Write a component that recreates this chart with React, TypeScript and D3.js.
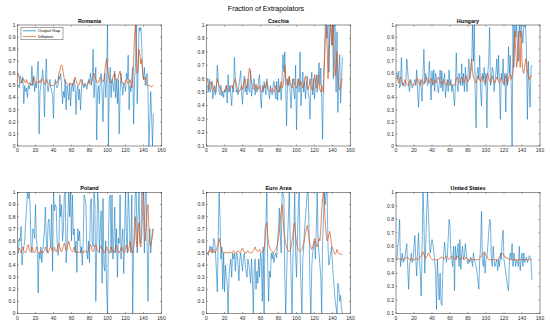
import React from "react";
import * as d3 from "d3";

// fraction of extrapolators, one pair of series per country (t = 1..151)
const countries = ["Romania", "Czechia", "Hungary", "Poland", "Euro Area", "United States"];
const seriesNames = ["Output Gap", "Inflation"];
const xTicks = [0, 20, 40, 60, 80, 100, 120, 140, 160];

const romaniaGap = [
  0.50,0.48,0.58,0.55,0.52,0.57,0.35,0.50,0.45,0.48, 0.40,0.50,0.47,0.52,0.50,0.66,0.50,0.58,0.45,0.52,
  0.48,0.62,0.70,0.10,0.45,0.50,0.55,0.63,0.50,0.24, 0.55,0.72,0.50,0.45,0.50,0.55,0.48,0.45,0.42,0.23,
  0.50,0.55,0.50,0.48,0.50,0.58,0.55,0.60,0.50,0.35, 0.45,0.40,0.55,0.30,0.50,0.45,0.38,0.52,0.33,0.48,
  0.52,0.45,0.55,0.50,0.26,0.45,0.50,0.38,0.47,0.30, 0.45,0.55,0.50,0.48,0.52,0.50,0.47,0.50,0.55,0.52,
  0.60,0.50,0.55,0.80,0.40,0.55,0.65,0.05,0.45,0.50, 0.35,0.55,0.60,0.45,0.20,0.50,0.60,0.40,0.55,1.00,
  0.00,0.50,0.65,0.40,0.55,0.50,0.45,0.62,0.40,0.55, 0.35,0.55,0.10,0.45,0.60,0.50,0.42,0.52,0.50,0.45,
  0.60,0.55,0.75,0.30,0.50,0.45,0.55,0.65,0.18,0.55, 0.65,1.00,0.35,0.60,0.98,0.95,0.98,0.85,0.60,0.55,
  0.65,0.50,0.55,0.60,0.45,0.00,0.20,0.45,0.25,0.00,0.27,
];
const romaniaInf = [
  0.60,0.55,0.52,0.52,0.55,0.55,0.55,0.53,0.52,0.55, 0.53,0.51,0.52,0.52,0.51,0.50,0.52,0.57,0.55,0.53,
  0.52,0.52,0.53,0.54,0.52,0.55,0.56,0.55,0.53,0.51, 0.52,0.55,0.53,0.52,0.51,0.50,0.50,0.50,0.50,0.50,
  0.51,0.52,0.53,0.52,0.55,0.60,0.62,0.66,0.67,0.65, 0.60,0.55,0.53,0.52,0.52,0.51,0.50,0.51,0.52,0.51,
  0.50,0.52,0.55,0.57,0.54,0.52,0.51,0.50,0.52,0.55, 0.53,0.51,0.50,0.50,0.51,0.50,0.50,0.52,0.54,0.52,
  0.51,0.52,0.55,0.58,0.60,0.58,0.55,0.53,0.52,0.53, 0.55,0.57,0.56,0.54,0.53,0.55,0.62,0.68,0.72,0.65,
  0.58,0.55,0.53,0.52,0.54,0.57,0.59,0.60,0.56,0.54, 0.55,0.57,0.60,0.62,0.57,0.53,0.52,0.51,0.52,0.54,
  0.55,0.53,0.51,0.52,0.55,0.52,0.48,0.55,0.70,0.90, 1.00,0.80,0.60,0.65,0.80,0.75,0.68,0.72,0.62,0.55,
  0.55,0.57,0.52,0.50,0.50,0.50,0.50,0.49,0.49,0.50,0.50,
];

const czechiaGap = [
  0.55,0.50,0.60,0.50,0.52,0.58,0.45,0.50,0.55,0.48, 0.52,0.70,0.60,0.50,0.48,0.55,0.47,0.50,0.46,0.52,
  0.50,0.55,0.42,0.63,0.50,0.55,0.47,0.40,0.55,0.50, 0.76,0.60,0.50,0.52,0.48,0.55,0.60,0.66,0.50,0.41,
  0.55,0.62,0.50,0.55,0.48,0.60,0.52,0.50,0.66,0.47, 0.52,0.55,0.60,0.48,0.55,0.50,0.52,0.60,0.63,0.45,
  0.38,0.55,0.50,0.58,0.53,0.48,0.60,0.52,0.50,0.45, 0.55,0.50,0.48,0.55,0.58,0.52,0.45,0.58,0.44,0.60,
  0.50,0.55,0.44,0.62,0.78,0.65,0.80,0.55,0.25,0.60, 0.55,0.62,0.50,0.38,0.55,0.60,0.50,0.45,0.70,0.22,
  0.55,0.60,0.50,0.80,0.40,0.55,0.65,0.50,0.58,0.45, 0.55,0.62,0.50,0.45,0.30,0.55,0.65,0.48,0.60,0.45,
  0.55,0.63,0.50,0.58,0.72,0.55,0.68,0.45,0.15,0.60, 0.75,1.00,1.00,0.90,1.00,0.65,1.00,1.00,0.85,1.00,
  0.60,1.00,1.00,0.50,0.95,0.35,0.65,0.78,0.42,0.60,0.76,
];
const czechiaInf = [
  0.60,0.55,0.52,0.55,0.58,0.57,0.55,0.52,0.50,0.52, 0.55,0.60,0.57,0.55,0.53,0.52,0.51,0.50,0.50,0.51,
  0.52,0.55,0.53,0.52,0.51,0.52,0.54,0.55,0.53,0.55, 0.58,0.60,0.57,0.53,0.52,0.50,0.51,0.53,0.55,0.52,
  0.55,0.58,0.60,0.55,0.53,0.58,0.65,0.68,0.62,0.58, 0.55,0.53,0.52,0.55,0.56,0.54,0.52,0.53,0.55,0.52,
  0.50,0.51,0.52,0.55,0.53,0.56,0.58,0.55,0.52,0.51, 0.50,0.52,0.53,0.51,0.50,0.52,0.55,0.53,0.51,0.50,
  0.52,0.55,0.58,0.53,0.55,0.60,0.70,0.62,0.57,0.55, 0.58,0.62,0.57,0.55,0.53,0.58,0.60,0.56,0.55,0.53,
  0.55,0.60,0.57,0.55,0.58,0.56,0.53,0.55,0.60,0.62, 0.57,0.53,0.52,0.55,0.60,0.55,0.52,0.51,0.55,0.63,
  0.58,0.53,0.55,0.63,0.55,0.52,0.50,0.55,0.52,0.50, 0.70,0.90,1.00,0.85,0.60,0.75,0.90,1.00,0.95,0.85,
  1.00,0.75,0.62,0.70,0.80,0.65,0.55,0.52,0.53,0.58,0.60,
];

const hungaryGap = [
  0.60,0.55,0.62,0.48,0.50,0.73,0.50,0.52,0.50,0.49, 0.55,0.72,0.62,0.50,0.45,0.55,0.50,0.48,0.50,0.52,
  0.55,0.50,0.63,0.45,0.32,0.50,0.55,0.48,0.37,0.60, 0.80,0.52,0.60,0.55,0.50,0.52,0.70,0.55,0.38,0.62,
  0.50,0.63,0.45,0.60,0.55,0.50,0.44,0.50,0.63,0.48, 0.62,0.45,0.55,0.60,0.40,0.50,0.55,0.45,0.63,0.50,
  0.55,0.45,0.50,0.42,0.33,0.50,0.77,0.50,0.45,0.60, 0.55,0.50,0.68,0.50,0.60,0.45,0.65,0.55,0.45,0.60,
  0.72,0.55,0.60,0.65,1.00,0.70,1.00,0.45,0.15,0.60, 0.65,0.55,0.75,0.45,0.33,0.60,0.55,0.65,0.50,0.60,
  0.15,0.60,0.70,0.98,0.50,0.55,0.65,0.62,0.45,0.55, 0.60,0.72,0.55,0.75,0.50,0.22,0.60,0.55,0.72,0.50,
  0.60,0.28,0.60,0.50,0.82,0.60,0.75,0.50,0.00,1.00, 0.65,1.00,0.90,1.00,0.80,0.70,1.00,0.90,1.00,0.95,
  0.85,1.00,0.98,1.00,0.75,0.22,0.70,0.50,0.32,0.65,0.67,
];
const hungaryInf = [
  0.58,0.55,0.52,0.55,0.57,0.55,0.52,0.50,0.52,0.55, 0.53,0.51,0.50,0.50,0.52,0.55,0.53,0.51,0.50,0.50,
  0.51,0.52,0.55,0.56,0.53,0.51,0.50,0.52,0.55,0.53, 0.51,0.52,0.55,0.57,0.55,0.53,0.52,0.55,0.56,0.53,
  0.51,0.52,0.55,0.53,0.52,0.55,0.57,0.55,0.53,0.52, 0.51,0.53,0.55,0.52,0.51,0.50,0.52,0.54,0.52,0.51,
  0.50,0.50,0.51,0.50,0.50,0.52,0.55,0.57,0.55,0.53, 0.52,0.55,0.57,0.55,0.53,0.52,0.55,0.58,0.55,0.53,
  0.55,0.58,0.65,0.72,0.62,0.57,0.55,0.53,0.52,0.55, 0.58,0.56,0.55,0.53,0.56,0.58,0.55,0.53,0.52,0.55,
  0.58,0.60,0.56,0.54,0.52,0.55,0.58,0.55,0.53,0.52, 0.55,0.57,0.55,0.53,0.52,0.55,0.57,0.55,0.52,0.51,
  0.55,0.58,0.55,0.52,0.55,0.58,0.60,0.55,0.58,0.60, 0.75,0.95,0.80,0.65,0.70,0.95,0.80,0.65,0.95,0.70,
  0.62,0.60,0.65,0.72,0.70,0.62,0.58,0.55,0.57,0.58,0.58,
];

const polandGap = [
  0.50,0.62,0.60,0.72,0.40,0.50,0.55,0.60,0.75,0.85, 1.00,0.95,1.00,0.90,0.55,0.50,0.70,0.68,0.62,0.90,
  0.62,0.55,0.17,0.50,0.45,0.55,0.42,0.52,0.60,0.70, 0.88,0.60,0.50,0.75,0.78,0.65,0.55,0.90,0.35,1.00,
  0.85,0.90,0.88,0.60,0.48,0.55,0.98,0.80,0.90,0.60, 0.70,0.98,1.00,0.42,0.55,0.80,1.00,0.80,1.00,0.60,
  0.98,0.65,0.70,0.50,0.60,0.34,0.70,0.60,0.68,0.50, 0.55,0.40,0.60,0.98,0.95,0.90,0.50,0.45,0.60,0.42,
  0.90,0.95,0.60,0.55,1.00,0.90,0.10,0.55,1.00,0.90, 0.50,0.70,0.85,0.25,0.95,0.40,0.35,0.60,0.20,0.00,
  0.60,0.95,0.98,0.50,0.98,0.45,0.60,0.88,0.50,0.70, 0.30,0.62,0.58,0.98,0.45,0.60,0.70,0.33,0.65,1.00,
  0.65,0.50,1.00,0.85,0.60,0.50,0.98,0.00,0.55,0.75, 1.00,1.00,0.50,0.80,1.00,0.60,0.58,1.00,1.00,0.80,
  0.50,1.00,1.00,0.60,0.10,0.60,0.70,0.50,0.60,0.70,
];
const polandInf = [
  0.52,0.54,0.52,0.50,0.53,0.55,0.52,0.51,0.50,0.52, 0.56,0.57,0.53,0.51,0.52,0.55,0.53,0.51,0.50,0.52,
  0.55,0.53,0.51,0.50,0.51,0.52,0.50,0.50,0.51,0.52, 0.55,0.53,0.51,0.50,0.52,0.54,0.55,0.53,0.51,0.52,
  0.55,0.52,0.51,0.53,0.56,0.58,0.55,0.52,0.51,0.53, 0.56,0.58,0.55,0.52,0.53,0.57,0.60,0.56,0.53,0.52,
  0.51,0.52,0.55,0.53,0.51,0.50,0.51,0.51,0.50,0.51, 0.52,0.51,0.50,0.51,0.52,0.51,0.50,0.51,0.52,0.55,
  0.57,0.55,0.52,0.51,0.53,0.56,0.57,0.54,0.52,0.51, 0.52,0.55,0.56,0.53,0.51,0.50,0.51,0.53,0.55,0.52,
  0.51,0.50,0.52,0.55,0.53,0.51,0.50,0.52,0.55,0.56, 0.53,0.51,0.50,0.52,0.54,0.55,0.52,0.51,0.50,0.55,
  0.57,0.53,0.51,0.55,0.60,0.55,0.52,0.50,0.55,0.60, 0.80,0.60,0.55,0.70,0.75,0.58,0.55,0.65,0.85,1.00,
  0.80,0.60,0.70,0.85,0.90,0.70,0.58,0.56,0.60,0.65,0.70,
];

const euroGap = [
  0.50,0.48,0.52,0.56,0.53,0.55,0.50,0.62,0.60,0.50, 0.35,0.18,0.60,1.00,0.80,0.45,0.55,0.20,0.50,0.18,
  0.40,0.30,0.25,0.00,0.30,0.40,0.45,0.30,0.50,0.45, 0.50,0.35,0.48,0.50,0.40,0.27,0.45,0.50,0.42,0.35,
  0.45,0.50,0.42,0.35,0.30,0.45,0.40,0.35,0.25,0.45, 0.30,0.00,0.35,0.45,0.20,0.35,0.25,0.45,0.30,0.50,
  0.45,0.10,0.55,0.00,0.70,0.75,1.00,0.40,0.10,0.35, 0.30,0.50,0.45,0.50,0.42,0.48,0.50,0.46,0.60,0.70,
  0.87,0.65,0.50,1.00,1.00,0.95,0.30,0.00,0.30,0.60, 0.80,1.00,0.60,0.30,0.00,0.45,0.70,1.00,0.50,0.30,
  0.60,0.90,1.00,0.50,0.20,0.00,0.45,0.55,0.70,0.80, 0.90,1.00,1.00,0.65,0.20,0.00,0.40,0.50,0.55,0.60,
  0.45,0.70,1.00,0.60,0.50,0.40,0.30,0.00,0.60,0.80, 1.00,0.90,1.00,1.00,0.55,0.40,0.45,0.50,0.55,0.40,
  0.30,0.20,0.10,0.05,0.00,0.25,0.20,0.10,0.15,0.05,0.00,
];
const euroInf = [
  0.50,0.50,0.52,0.51,0.53,0.50,0.52,0.53,0.50,0.51, 0.52,0.55,0.58,0.62,0.58,0.55,0.53,0.51,0.50,0.50,
  0.51,0.50,0.50,0.50,0.50,0.51,0.50,0.50,0.51,0.52, 0.51,0.50,0.50,0.51,0.52,0.51,0.50,0.51,0.53,0.54,
  0.52,0.51,0.50,0.50,0.51,0.52,0.51,0.50,0.50,0.50, 0.51,0.52,0.53,0.55,0.53,0.52,0.51,0.52,0.53,0.51,
  0.50,0.51,0.52,0.53,0.60,0.70,0.75,0.65,0.58,0.55, 0.53,0.52,0.51,0.50,0.51,0.52,0.53,0.55,0.58,0.62,
  0.68,0.78,0.85,0.90,0.80,0.68,0.62,0.58,0.55,0.53, 0.52,0.51,0.52,0.55,0.60,0.65,0.72,0.75,0.65,0.58,
  0.55,0.53,0.52,0.51,0.52,0.53,0.55,0.58,0.62,0.66, 0.70,0.73,0.68,0.62,0.57,0.55,0.53,0.55,0.58,0.62,
  0.60,0.57,0.55,0.58,0.62,0.60,0.70,0.85,0.95,1.00, 0.90,0.75,0.65,0.60,0.62,0.65,0.68,0.62,0.57,0.54,
  0.52,0.50,0.49,0.50,0.53,0.51,0.50,0.49,0.49,0.49,0.49,
];

const usGap = [
  0.50,0.60,0.65,0.80,0.45,0.50,0.55,0.48,0.50,0.52, 0.58,0.62,0.45,0.28,0.45,0.50,0.55,0.48,0.50,0.60,
  0.68,0.50,0.38,0.55,0.70,0.50,0.40,0.23,0.60,1.00, 0.80,0.40,0.60,0.85,1.00,0.85,0.65,0.55,0.60,0.65,
  0.62,0.55,0.50,0.40,0.13,0.50,0.35,0.20,0.40,0.18, 0.16,0.42,0.55,0.63,0.55,0.48,0.53,0.65,0.80,0.75,
  0.55,0.50,0.45,0.60,0.27,0.60,0.50,0.55,0.62,0.45, 0.65,0.43,0.55,0.60,0.50,0.52,0.62,0.55,0.50,0.47,
  0.50,0.48,0.52,0.50,0.45,0.55,0.50,0.48,0.45,0.40, 0.35,0.28,0.50,0.60,0.86,0.50,0.45,0.55,0.40,0.50,
  0.52,0.60,0.70,0.80,0.78,0.50,0.45,0.60,0.50,0.45, 0.48,0.50,0.42,0.50,0.45,0.55,0.50,0.65,0.72,0.50,
  0.45,0.40,0.35,0.30,0.27,0.50,0.55,0.50,0.62,0.45, 0.55,0.50,0.45,0.50,0.48,0.45,0.60,0.42,0.50,0.55,
  0.45,0.55,0.48,0.50,0.52,0.48,0.50,0.53,0.52,0.50,0.35,
];
const usInf = [
  0.50,0.51,0.51,0.50,0.50,0.50,0.51,0.51,0.50,0.50, 0.51,0.52,0.52,0.51,0.50,0.50,0.50,0.51,0.50,0.50,
  0.50,0.51,0.51,0.50,0.50,0.51,0.52,0.53,0.55,0.56, 0.54,0.52,0.51,0.52,0.53,0.55,0.54,0.52,0.51,0.50,
  0.50,0.50,0.50,0.50,0.50,0.50,0.50,0.51,0.51,0.52, 0.52,0.51,0.50,0.51,0.52,0.53,0.52,0.51,0.50,0.51,
  0.52,0.53,0.52,0.51,0.50,0.51,0.52,0.53,0.52,0.51, 0.50,0.50,0.51,0.52,0.51,0.50,0.51,0.52,0.51,0.50,
  0.50,0.50,0.50,0.50,0.50,0.50,0.50,0.50,0.50,0.50, 0.50,0.50,0.51,0.52,0.53,0.54,0.55,0.56,0.55,0.53,
  0.52,0.51,0.50,0.50,0.50,0.50,0.50,0.50,0.50,0.50, 0.50,0.50,0.50,0.51,0.52,0.53,0.54,0.55,0.54,0.53,
  0.52,0.52,0.51,0.51,0.51,0.50,0.50,0.50,0.50,0.50, 0.50,0.50,0.50,0.50,0.50,0.50,0.50,0.50,0.50,0.50,
  0.50,0.50,0.50,0.50,0.50,0.50,0.50,0.50,0.50,0.50,0.51,
];

const gapData = [romaniaGap, czechiaGap, hungaryGap, polandGap, euroGap, usGap];
const infData = [romaniaInf, czechiaInf, hungaryInf, polandInf, euroInf, usInf];
const yMins = [0, 0.1, 0, 0, 0, 0.1];

const W = 550, H = 327;
const colLeft = [17.5, 206.5, 396];
const rowTop = [25, 192.5];
const pw = 144, ph = 121;
const axisColor = "#262626";
const blue = "#0072BD", orange = "#D95319";
const font = "'Liberation Sans', Arial, sans-serif";

const fmtY = (v: number) => (v === 0 ? "0" : v === 1 ? "1" : v.toFixed(1));

function Panel({ i }: { i: number }) {
  const left = colLeft[i % 3];
  const top = rowTop[Math.floor(i / 3)];
  const x = d3.scaleLinear().domain([0, 160]).range([left, left + pw]);
  const y = d3.scaleLinear().domain([yMins[i], 1]).range([top + ph, top]).clamp(true);
  const yTicks = d3.range(Math.round(yMins[i] * 10), 11).map((k) => k / 10);
  const line = d3.line<number>().x((_, j) => x(j + 1)).y((d) => y(d));

  return (
    <g>
      <rect x={left} y={top} width={pw} height={ph} fill="#fff" />
      <path d={line(gapData[i]) || ""} fill="none" stroke={blue} strokeWidth={0.55} />
      <path d={line(infData[i]) || ""} fill="none" stroke={orange} strokeWidth={0.7} />
      <rect x={left} y={top} width={pw} height={ph} fill="none" stroke={axisColor} strokeWidth={0.5} />
      {xTicks.map((t) => (
        <g key={"x" + t}>
          <line x1={x(t)} x2={x(t)} y1={top + ph} y2={top + ph - 1.5} stroke={axisColor} strokeWidth={0.4} />
          <line x1={x(t)} x2={x(t)} y1={top} y2={top + 1.5} stroke={axisColor} strokeWidth={0.4} />
          <text x={x(t)} y={top + ph + 6} fontSize={5} textAnchor="middle" fill={axisColor} fontFamily={font}>
            {t}
          </text>
        </g>
      ))}
      {yTicks.map((t) => (
        <g key={"y" + t}>
          <line x1={left} x2={left + 1.5} y1={y(t)} y2={y(t)} stroke={axisColor} strokeWidth={0.4} />
          <line x1={left + pw} x2={left + pw - 1.5} y1={y(t)} y2={y(t)} stroke={axisColor} strokeWidth={0.4} />
          <text x={left - 2} y={y(t) + 1.8} fontSize={5} textAnchor="end" fill={axisColor} fontFamily={font}>
            {fmtY(t)}
          </text>
        </g>
      ))}
      <text x={left + pw / 2} y={top - 2.5} fontSize={5.5} fontWeight="bold" textAnchor="middle" fill="#000" fontFamily={font}>
        {countries[i]}
      </text>
      {i === 0 && (
        <g>
          <rect x={21} y={27.3} width={42} height={12.5} fill="#fff" stroke={axisColor} strokeWidth={0.4} />
          {seriesNames.map((s, k) => (
            <g key={s}>
              <line x1={23} x2={36} y1={30.8 + k * 5.8} y2={30.8 + k * 5.8} stroke={k === 0 ? blue : orange} strokeWidth={0.7} />
              <text x={38} y={32.3 + k * 5.8} fontSize={4.3} fill="#000" fontFamily={font}>
                {s}
              </text>
            </g>
          ))}
        </g>
      )}
    </g>
  );
}

export default function App() {
  return (
    <div style={{ position: "absolute", left: 0, top: 0 }}>
      <svg width={W} height={H} style={{ display: "block", background: "#fff" }}>
        <rect width={W} height={H} fill="#fff" />
        <text x={266} y={11} fontSize={7} textAnchor="middle" fill="#000" fontFamily={font}>
          Fraction of Extrapolators
        </text>
        {countries.map((c, i) => (
          <Panel key={c} i={i} />
        ))}
      </svg>
    </div>
  );
}
